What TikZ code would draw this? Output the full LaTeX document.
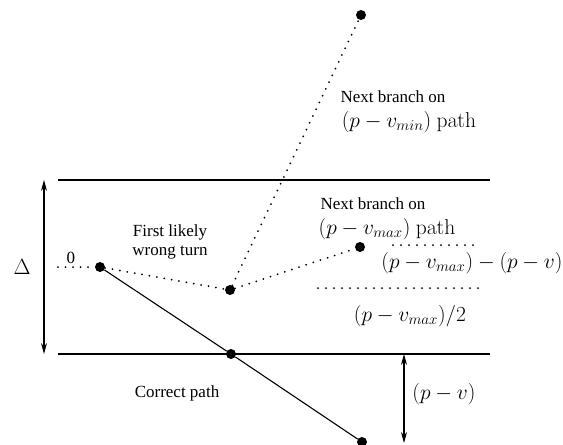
\RequirePackage{fix-cm}
\documentclass[tikz,border=0pt]{standalone}
\usepackage[no-math]{fontspec}
\setmainfont{Liberation Serif}
\usetikzlibrary{arrows.meta}
\begin{document}
\begin{tikzpicture}[x=1pt,y=-1pt,
  dot/.style={circle,fill=black,inner sep=0pt,minimum size=10pt},
  dotline/.style={line width=2pt,line cap=round,dash pattern=on 0pt off 7.5pt},
  bound/.style={line width=1.3pt},
  dim/.style={line width=1.1pt,{Stealth[length=11pt,width=6pt]}-{Stealth[length=11pt,width=6pt]}},
  lbl/.style={font=\fontsize{17}{19}\selectfont,align=center,inner sep=0pt},
  mth/.style={font=\fontsize{21.5}{23}\selectfont,inner sep=0pt}]
\useasboundingbox (0,0) rectangle (563,445);
% bounds
\coordinate (tl) at (58,180); \coordinate (tr) at (490,180);
\coordinate (bl) at (58,354); \coordinate (br) at (490,354);
\draw[bound] (tl) -- (tr);
\draw[bound] (bl) -- (br);
% Delta
\coordinate (da) at (44,180); \coordinate (db) at (44,354);
\draw[dim] (da) -- (db);
\node[mth,font=\fontsize{22}{24}\selectfont] (delta) at (22,267) {$\Delta$};
% dots
\node[dot] (start) at (100,267) {};
\node[dot] (wrong) at (230,290) {};
\node[dot] (top) at (361,15) {};
\node[dot] (nb) at (360,247) {};
\node[dot] (mid) at (231,354) {};
\node[dot] (end) at (362,442) {};
% paths
\coordinate (zl) at (58,267);
\draw[dotline] (zl) -- (start);
\node[lbl] (zero) at (71,258) {0};
\draw[dotline] (start) -- (wrong);
\draw[dotline] (wrong) -- (top);
\draw[dotline] (wrong) -- (nb);
\draw[line width=1.1pt] (start) -- (mid) -- (end);
% dotted levels
\coordinate (u1) at (393,245); \coordinate (u2) at (476,245);
\coordinate (l1) at (318,288); \coordinate (l2) at (481,288);
\draw[dotline,dash pattern=on 0pt off 8pt] (u1) -- (u2);
\draw[dotline,dash pattern=on 0pt off 8pt] (l1) -- (l2);
% (p-v) arrow
\coordinate (pa) at (404,354); \coordinate (pb) at (404,443);
\draw[dim] (pa) -- (pb);
% labels
\node[lbl] (t1) at (393,97) {Next branch on};
\node[mth] (t2) at (409,122) {$(p-v_{min})\ \mathrm{path}$};
\node[lbl] (t3) at (373,204) {Next branch on};
\node[mth] (t4) at (387,229) {$(p-v_{max})\ \mathrm{path}$};
\node[lbl] (t5) at (170,242) {First likely\\wrong turn};
\node[mth] (t6) at (472,263) {$(p-v_{max})-(p-v)$};
\node[mth] (t7) at (410,316) {$(p-v_{max})/2$};
\node[lbl] (t8) at (177,393) {Correct path};
\node[mth] (t9) at (444,394) {$(p-v)$};
\end{tikzpicture}
\end{document}
